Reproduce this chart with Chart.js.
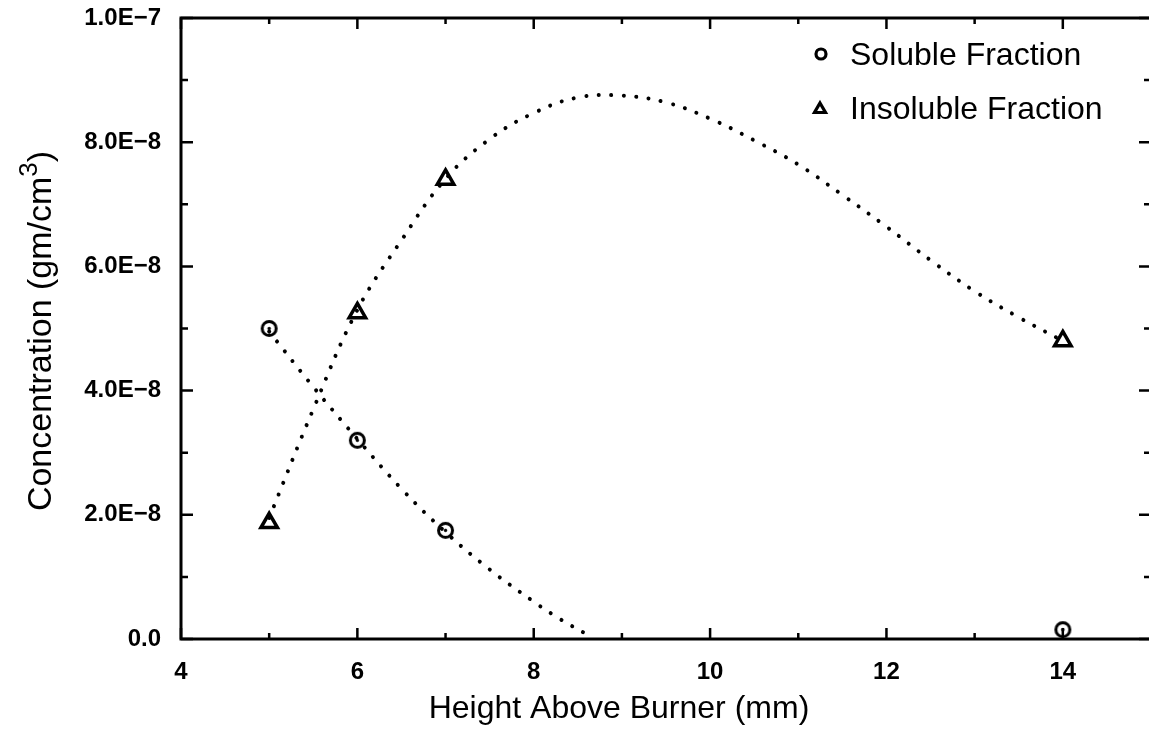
<!DOCTYPE html>
<html>
<head>
<meta charset="utf-8">
<script src="https://cdn.jsdelivr.net/npm/chart.js@4.4.1/dist/chart.umd.min.js"></script>
<style>
  html, body { margin: 0; padding: 0; background: #fff; overflow: hidden; }
  canvas { display: block; }
</style>
</head>
<body>
<canvas id="chart" width="1153" height="732"></canvas>
<script>
// measured points
const HEIGHT_MM = [5, 6, 7, 14];
const SOLUBLE = [5.0e-8, 3.2e-8, 1.75e-8, 0.15e-8];
const INSOLUBLE = [1.87e-8, 5.25e-8, 7.4e-8, 4.8e-8];

// dotted fit curves
const SOLUBLE_FIT_X = [5.0, 5.5, 6.0, 6.5, 7.0, 7.5, 8.0, 8.3, 8.62];
const SOLUBLE_FIT_Y = [4.95e-8, 4.06e-8, 3.22e-8, 2.42e-8, 1.72e-8, 1.12e-8, 0.6e-8, 0.32e-8, 0.06e-8];
const INSOLUBLE_FIT_X = [5.0, 5.5, 6.0, 6.5, 7.0, 7.5, 8.0, 8.5, 9.0, 9.5, 10.0, 10.5, 11.0, 11.5, 12.0, 12.5, 13.0, 13.5, 14.0];
const INSOLUBLE_FIT_Y = [1.95e-8, 3.7e-8, 5.3e-8, 6.42e-8, 7.41e-8, 8.05e-8, 8.47e-8, 8.72e-8, 8.75e-8, 8.64e-8, 8.38e-8,
                         8.03e-8, 7.64e-8, 7.15e-8, 6.64e-8, 6.1e-8, 5.6e-8, 5.18e-8, 4.8e-8];

const X_TICKS = [4, 6, 8, 10, 12, 14];
const X_MINOR = [5, 7, 9, 11, 13];
const Y_TICKS = [0, 2e-8, 4e-8, 6e-8, 8e-8, 1e-7];
const Y_MINOR = [1e-8, 3e-8, 5e-8, 7e-8, 9e-8];
const Y_TICK_LABELS = ['0.0', '2.0E\u22128', '4.0E\u22128', '6.0E\u22128', '8.0E\u22128', '1.0E\u22127'];

const FONT = '"Liberation Sans", Arial, sans-serif';

// open circle with a centre dot, used as the soluble marker
function ringDot(r, lw) {
    const c = document.createElement('canvas');
    const s = Math.ceil(2 * r + lw + 2);
    c.width = c.height = s;
    const g = c.getContext('2d');
    g.strokeStyle = '#000';
    g.fillStyle = '#000';
    g.lineWidth = lw;
    g.beginPath();
    g.arc(s / 2, s / 2, r, 0, Math.PI * 2);
    g.stroke();
    g.beginPath();
    g.arc(s / 2, s / 2, 1.7, 0, Math.PI * 2);
    g.fill();
    return c;
}

const pts = (xs, ys) => xs.map((x, i) => ({ x: x, y: ys[i] }));

const dotted = {
    showLine: true,
    pointRadius: 0,
    borderColor: '#000',
    borderWidth: 4,
    borderDash: [0.01, 12.5],
    borderCapStyle: 'round',
    tension: 0.4,
    fill: false,
};

// box, inward ticks on all four sides
const frame = {
    id: 'frame',
    afterDraw(chart) {
        const { ctx, chartArea: a, scales: { x, y } } = chart;
        ctx.save();
        ctx.strokeStyle = '#000';
        ctx.lineWidth = 3;
        ctx.strokeRect(a.left, a.top, a.right - a.left, a.bottom - a.top);
        ctx.lineWidth = 2.5;
        ctx.beginPath();
        const xt = (v, len) => {
            const px = x.getPixelForValue(v);
            ctx.moveTo(px, a.bottom); ctx.lineTo(px, a.bottom - len);
            ctx.moveTo(px, a.top); ctx.lineTo(px, a.top + len);
        };
        const yt = (v, len) => {
            const py = y.getPixelForValue(v);
            ctx.moveTo(a.left, py); ctx.lineTo(a.left + len, py);
            ctx.moveTo(a.right, py); ctx.lineTo(a.right - len, py);
        };
        X_TICKS.forEach(v => xt(v, 11));
        X_MINOR.forEach(v => xt(v, 6));
        Y_TICKS.forEach(v => yt(v, 12));
        Y_MINOR.forEach(v => yt(v, 7));
        ctx.stroke();
        ctx.restore();
    }
};

// axis titles and the in-plot key
const labels = {
    id: 'labels',
    afterDraw(chart) {
        const { ctx } = chart;
        ctx.save();
        ctx.fillStyle = '#000';
        ctx.strokeStyle = '#000';

        ctx.font = '32px ' + FONT;
        ctx.textAlign = 'center';
        ctx.textBaseline = 'alphabetic';
        ctx.fillText('Height Above Burner (mm)', 619, 718);

        // y title with superscript
        ctx.translate(51, 331);
        ctx.rotate(-Math.PI / 2);
        const a = 'Concentration (gm/cm', sup = '3', b = ')';
        ctx.font = '34px ' + FONT;
        const wa = ctx.measureText(a).width, wb = ctx.measureText(b).width;
        ctx.font = '26px ' + FONT;
        const ws = ctx.measureText(sup).width;
        let cx = -(wa + ws + wb) / 2;
        ctx.textAlign = 'left';
        ctx.font = '34px ' + FONT;
        ctx.fillText(a, cx, 0);
        ctx.font = '26px ' + FONT;
        ctx.fillText(sup, cx + wa, -14);
        ctx.font = '34px ' + FONT;
        ctx.fillText(b, cx + wa + ws, 0);
        ctx.setTransform(1, 0, 0, 1, 0, 0);

        // key
        const keyed = chart.data.datasets.filter(d => d.keyMark);
        ctx.font = '32px ' + FONT;
        ctx.textAlign = 'left';
        keyed.forEach((d, i) => {
            const yy = 54 + i * 54;
            ctx.lineWidth = 3.2;
            ctx.beginPath();
            if (d.keyMark === 'circle') {
                ctx.arc(821, yy, 5, 0, Math.PI * 2);
            } else {
                ctx.moveTo(820, yy - 5);
                ctx.lineTo(825.5, yy + 4.5);
                ctx.lineTo(814.5, yy + 4.5);
                ctx.closePath();
            }
            ctx.stroke();
            ctx.fillText(d.label, 850, yy + 11);
        });
        ctx.restore();
    }
};

new Chart(document.getElementById('chart'), {
    type: 'scatter',
    data: {
        datasets: [
            { ...dotted, label: 'fit-sol', data: pts(SOLUBLE_FIT_X, SOLUBLE_FIT_Y) },
            { ...dotted, label: 'fit-ins', data: pts(INSOLUBLE_FIT_X, INSOLUBLE_FIT_Y) },
            {
                label: 'Soluble Fraction',
                keyMark: 'circle',
                data: pts(HEIGHT_MM, SOLUBLE),
                pointStyle: ringDot(7, 3),
                pointRadius: 9,
            },
            {
                label: 'Insoluble Fraction',
                keyMark: 'triangle',
                data: pts(HEIGHT_MM, INSOLUBLE),
                pointStyle: 'triangle',
                pointRadius: 9.5,
                borderWidth: 3.5,
                borderColor: '#000',
                backgroundColor: '#fff',
            },
        ]
    },
    options: {
        responsive: false,
        animation: false,
        layout: { autoPadding: false, padding: { top: 18, right: 2, left: 0, bottom: 0 } },
        plugins: { legend: { display: false }, tooltip: { enabled: false } },
        scales: {
            x: {
                type: 'linear',
                min: 4,
                max: 15,
                grid: { display: false, drawTicks: false },
                border: { display: false },
                afterBuildTicks: s => { s.ticks = X_TICKS.map(v => ({ value: v })); },
                afterFit: s => { s.height = 93; s.paddingLeft = 0; s.paddingRight = 0; },
                ticks: {
                    padding: 19,
                    color: '#000',
                    maxRotation: 0,
                    font: { family: FONT, size: 24, weight: 'bold' },
                },
            },
            y: {
                type: 'linear',
                min: 0,
                max: 1e-7,
                grid: { display: false, drawTicks: false },
                border: { display: false },
                afterBuildTicks: s => { s.ticks = Y_TICKS.map(v => ({ value: v })); },
                afterFit: s => { s.width = 181; s.paddingTop = 0; s.paddingBottom = 0; },
                ticks: {
                    padding: 20,
                    color: '#000',
                    font: { family: FONT, size: 24, weight: 'bold' },
                    callback: (v, i) => Y_TICK_LABELS[i],
                },
            },
        },
    },
    plugins: [frame, labels],
});
</script>
</body>
</html>
